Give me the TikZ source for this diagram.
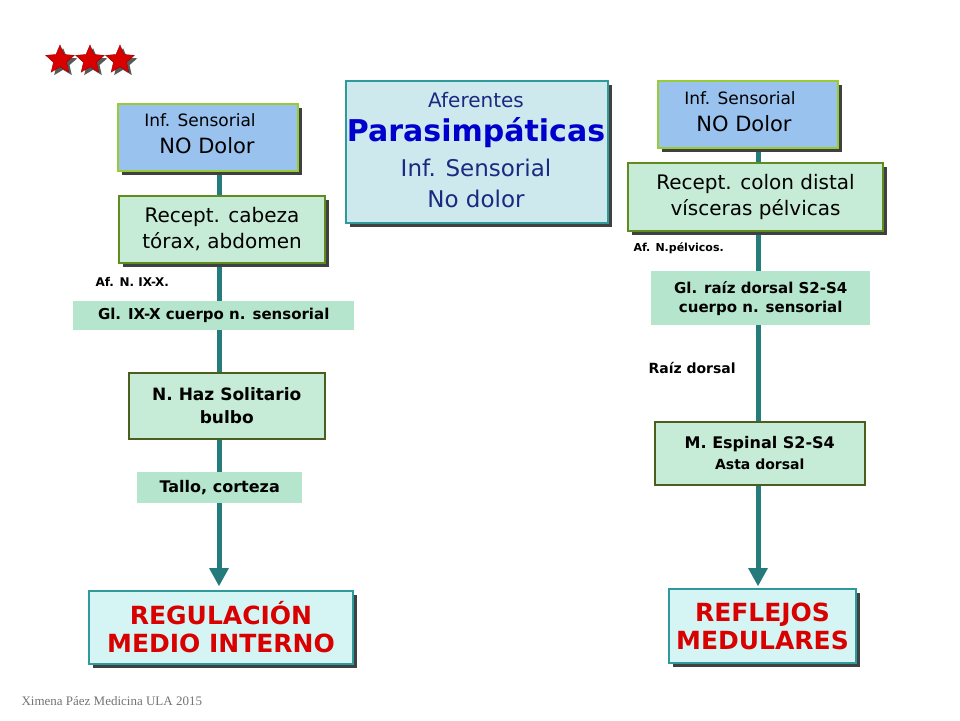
\documentclass[tikz,border=0pt]{standalone}
\usepackage{fontspec}
\setmainfont{DejaVu Sans}
\newfontfamily\serifx{Liberation Serif}
\usetikzlibrary{arrows.meta,shapes.geometric}
\definecolor{lblue}{HTML}{99C2EE}
\definecolor{lgreen}{HTML}{C6EBD6}
\definecolor{pgreen}{HTML}{B5E5CC}
\definecolor{bgreen}{HTML}{99CC33}
\definecolor{dgreen}{HTML}{5E8C1F}
\definecolor{olive}{HTML}{4B5E1E}
\definecolor{teal2}{HTML}{2F9A9A}
\definecolor{lcyan}{HTML}{CDE9EE}
\definecolor{rcyan}{HTML}{D5F5F5}
\definecolor{navy}{HTML}{1A2A80}
\tikzset{
 bx/.style={draw, line width=2pt, inner sep=0pt, anchor=north west, align=center, font=\bfseries},
 tl/.style={anchor=west},
 flow/.style={line width=5pt, draw=teal2!80!black},
 st/.style={star, star points=5, star point ratio=2.2, minimum size=30pt, inner sep=0pt},
}
\begin{document}
\begin{tikzpicture}[x=1pt,y=-1pt]
\useasboundingbox (0,0) rectangle (960,720);
% stars
\foreach \i/\x in {1/60,2/90,3/120}{
  \node[st, fill=black!65] (ss\i) at (\x+3,63) {};
  \node[st, fill=red!85!black, draw=red!60!black] (s\i) at (\x,60) {};
}
% flow lines
\draw[flow] (219,170) -- (219,575);
\fill[teal2!80!black] (209,568) -- (229,568) -- (219,586) -- cycle;
\draw[flow] (758,147) -- (758,575);
\fill[teal2!80!black] (748,568) -- (768,568) -- (758,586) -- cycle;
% shadows
\foreach \a/\b/\c/\d in {117/103/297/170, 118/195/324/262, 345/80/607/222, 657/80/837/147, 627/162/882/230, 88/590/352/663, 668/588/855/662}
  \fill[black!75] (\a+5,\b+5) rectangle (\c+5,\d+5);
% left
\node[bx, draw=bgreen, fill=lblue, minimum width=180pt, minimum height=67pt] (a1) at (117,103) {};
\node[font=\fontsize{17}{19}\selectfont] (a1t) at (200,120) {Inf. Sensorial};
\node[font=\fontsize{21}{23}\selectfont] (a1u) at (207,146) {NO Dolor};
\node[bx, draw=dgreen, fill=lgreen, minimum width=206pt, minimum height=67pt, font=\fontsize{20}{26}\selectfont] (a2) at (118,195) {Recept. cabeza\\tórax, abdomen};
\node[tl, font=\bfseries\fontsize{12}{14}\selectfont] (a3) at (92,282) {Af. N. IX-X.};
\node[fill=pgreen, minimum width=281pt, minimum height=29pt, inner sep=0pt, anchor=north west, font=\bfseries\fontsize{15}{17}\selectfont] (a4) at (73,301) {Gl. IX-X cuerpo n. sensorial};
\node[bx, draw=olive, line width=1.5pt, fill=lgreen, minimum width=196pt, minimum height=66pt, font=\bfseries\fontsize{17}{23}\selectfont] (a5) at (128,372) {N. Haz Solitario\\bulbo};
\node[fill=pgreen, minimum width=165pt, minimum height=31pt, inner sep=0pt, anchor=north west, font=\bfseries\fontsize{16}{18}\selectfont] (a6) at (137,472) {Tallo, corteza};
\node[bx, draw=teal2, fill=rcyan, minimum width=264pt, minimum height=73pt, text=red!85!black, font=\bfseries\fontsize{25}{28}\selectfont] (a7) at (88,590) {REGULACIÓN\\ MEDIO INTERNO};
% middle
\node[bx, draw=teal2, fill=lcyan, minimum width=262pt, minimum height=142pt] (m) at (345,80) {};
\node[font=\fontsize{20}{22}\selectfont, text=navy] (m1) at (476,100) {Aferentes};
\node[font=\bfseries\fontsize{30}{32}\selectfont, text=blue!80!black] (m2) at (476,133) {Parasimpáticas};
\node[font=\fontsize{23}{26}\selectfont, text=navy] (m3) at (476,168) {Inf. Sensorial};
\node[font=\fontsize{23}{26}\selectfont, text=navy] (m4) at (476,199) {No dolor};
% right
\node[bx, draw=bgreen, fill=lblue, minimum width=180pt, minimum height=67pt] (b1) at (657,80) {};
\node[font=\fontsize{17}{19}\selectfont] (b1t) at (740,98) {Inf. Sensorial};
\node[font=\fontsize{21}{23}\selectfont] (b1u) at (744,124) {NO Dolor};
\node[bx, draw=dgreen, fill=lgreen, minimum width=255pt, minimum height=68pt, font=\fontsize{20}{26}\selectfont] (b2) at (627,162) {Recept. colon distal\\vísceras pélvicas};
\node[tl, font=\bfseries\fontsize{11}{13}\selectfont] (b3) at (630,248) {Af. N.pélvicos.};
\node[fill=pgreen, minimum width=219pt, minimum height=54pt, inner sep=0pt, anchor=north west, align=center, font=\bfseries\fontsize{15}{19}\selectfont] (b4) at (651,271) {Gl. raíz dorsal S2-S4\\cuerpo n. sensorial};
\node[tl, font=\bfseries\fontsize{14}{16}\selectfont] (b5) at (645,368) {Raíz dorsal};
\node[bx, draw=olive, line width=1.5pt, fill=lgreen, minimum width=210pt, minimum height=63pt, font=\bfseries\fontsize{16}{21}\selectfont] (b6) at (654,421) {M. Espinal S2-S4\\{\fontsize{14}{16}\selectfont Asta dorsal}};
\node[bx, draw=teal2, fill=rcyan, minimum width=187pt, minimum height=74pt, text=red!85!black, font=\bfseries\fontsize{25}{28}\selectfont] (b7) at (668,588) {REFLEJOS\\ MEDULARES};
% footer
\node[anchor=west, font=\serifx\fontsize{13}{15}\selectfont, text=black!55] (ft) at (18,701) {Ximena Páez Medicina ULA 2015};
\end{tikzpicture}
\end{document}
